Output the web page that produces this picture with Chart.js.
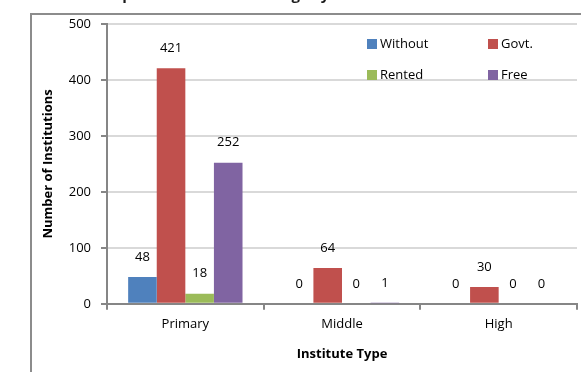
<!DOCTYPE html>
<html><head><meta charset="utf-8">
<script src="https://cdn.jsdelivr.net/npm/chart.js@4/dist/chart.umd.min.js"></script>
<style>html,body{margin:0;padding:0;background:#fff;overflow:hidden}#wrap{width:581px;height:372px;position:relative}</style>
</head><body><div id="wrap"><canvas id="c" width="581" height="372"></canvas></div>
<script>
const categories = ["Primary", "Middle", "High"];
const seriesNames = ["Without", "Govt.", "Rented", "Free"];
const withoutVals = [48, 0, 0];
const govtVals = [421, 64, 30];
const rentedVals = [18, 0, 0];
const freeVals = [252, 1, 0];
const yTicks = [0, 100, 200, 300, 400, 500];
const colors = ["#4f81bd", "#c0504d", "#9bbb59", "#8064a2"];
const titleText = "Ownership of Institution Buildings by Level";
const FONT = "'Open Sans', Lato, sans-serif";

const frame = {
  id: 'frame',
  beforeDraw(chart) {
    const ctx = chart.ctx;
    ctx.save();
    ctx.fillStyle = '#fff';
    ctx.fillRect(0, 0, chart.width, chart.height);
    ctx.strokeStyle = '#8c8c8c';
    ctx.lineWidth = 2;
    ctx.strokeRect(31, 14, 700, 500);
    ctx.fillStyle = '#1a1a1a';
    ctx.font = "bold 15px " + FONT;
    ctx.textAlign = 'left';
    ctx.textBaseline = 'alphabetic';
    ctx.fillText(titleText, 50, 0);
    ctx.restore();
  }
};

const valueLabels = {
  id: 'valueLabels',
  afterDatasetsDraw(chart) {
    const ctx = chart.ctx;
    ctx.save();
    ctx.font = "13px " + FONT;
    ctx.fillStyle = '#000';
    ctx.textAlign = 'center';
    ctx.textBaseline = 'middle';
    chart.data.datasets.forEach((ds, i) => {
      chart.getDatasetMeta(i).data.forEach((bar, j) => {
        ctx.fillText(String(ds.data[j]), bar.x, bar.y - 20);
      });
    });
    ctx.restore();
  }
};

const insideLegend = {
  id: 'insideLegend',
  afterDraw(chart) {
    const ctx = chart.ctx;
    const area = chart.chartArea;
    ctx.save();
    ctx.font = "13px " + FONT;
    ctx.textBaseline = 'middle';
    ctx.textAlign = 'left';
    const x0 = area.left + 260, colW = 121, y0 = area.top + 20, rowH = 31;
    chart.data.datasets.forEach((ds, i) => {
      const x = x0 + (i % 2) * colW;
      const y = y0 + Math.floor(i / 2) * rowH;
      ctx.fillStyle = ds.backgroundColor;
      ctx.fillRect(x, y - 5, 10, 10);
      ctx.fillStyle = '#000';
      ctx.fillText(ds.label, x + 13, y);
    });
    ctx.restore();
  }
};

new Chart(document.getElementById('c'), {
  type: 'bar',
  data: {
    labels: categories,
    datasets: [
      { label: seriesNames[0], data: withoutVals, backgroundColor: colors[0] },
      { label: seriesNames[1], data: govtVals, backgroundColor: colors[1] },
      { label: seriesNames[2], data: rentedVals, backgroundColor: colors[2] },
      { label: seriesNames[3], data: freeVals, backgroundColor: colors[3] }
    ]
  },
  options: {
    responsive: false,
    animation: false,
    layout: { padding: { left: 40, top: 24, right: 4, bottom: 10 } },
    datasets: { bar: { categoryPercentage: 0.73, barPercentage: 1.0 } },
    plugins: { legend: { display: false }, tooltip: { enabled: false }, title: { display: false } },
    scales: {
      x: {
        grid: { display: true, drawOnChartArea: false, drawTicks: true, tickLength: 6, color: '#868686', lineWidth: 2, offset: true },
        border: { color: '#868686', width: 2 },
        ticks: { color: '#000', font: { family: FONT, size: 13 }, padding: 7 },
        title: { display: true, text: 'Institute Type', color: '#000', font: { family: FONT, size: 13, weight: 'bold' }, padding: { top: 7, bottom: 0 } }
      },
      y: {
        min: 0, max: 500,
        afterBuildTicks(scale) { scale.ticks = yTicks.map(v => ({ value: v })); },
        afterFit(scale) { scale.width = 67; },
        grid: { color: '#d9d9d9', lineWidth: 2, tickColor: '#868686', tickLength: 6 },
        border: { color: '#868686', width: 2 },
        ticks: { color: '#000', font: { family: FONT, size: 13 }, padding: 10 },
        title: { display: true, text: 'Number of Institutions', color: '#000', font: { family: FONT, size: 13, weight: 'bold' }, padding: { top: 0, bottom: 4 } }
      }
    }
  },
  plugins: [frame, valueLabels, insideLegend]
});
</script></body></html>
